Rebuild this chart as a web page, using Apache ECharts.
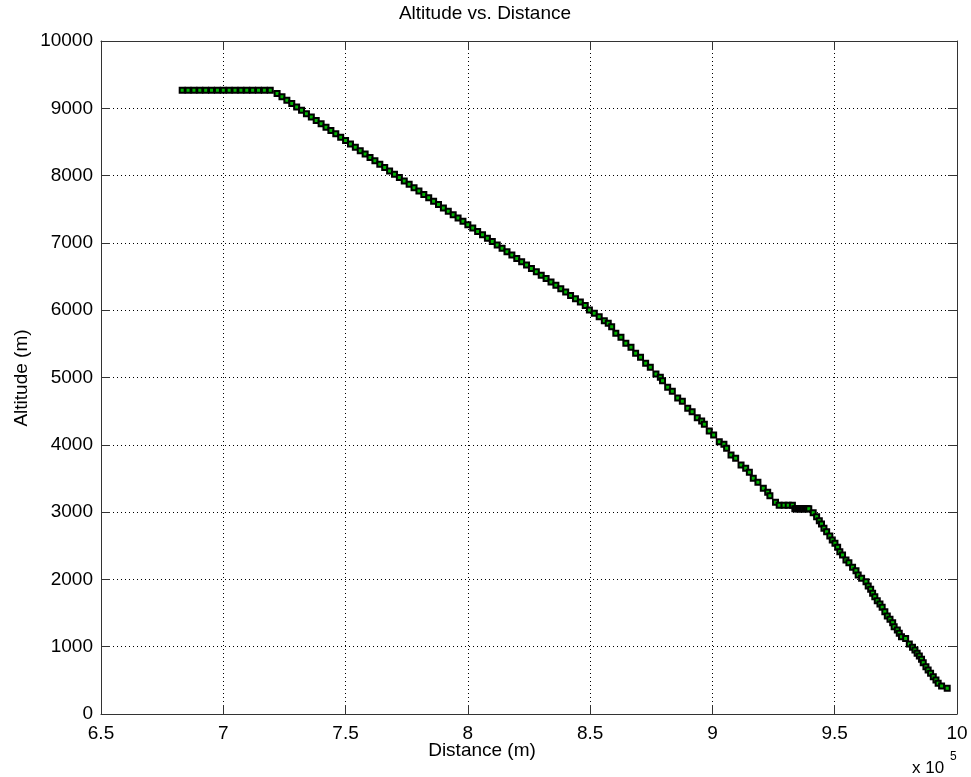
<!DOCTYPE html>
<html><head><meta charset="utf-8">
<script src="https://cdn.jsdelivr.net/npm/echarts@6/dist/echarts.min.js"></script>
<style>html,body{margin:0;padding:0;background:#fff}#c{width:971px;height:777px}</style>
</head><body><div id="c"></div>
<script>
// Distance (m) and altitude (m), per flight segment
const cruiseDist = [683200,685600,688000,690400,692800,695200,697600,700000,702400,704800,707200,709600,712000,714400,716800,719200];
const cruiseAlt  = [9270,9270,9270,9270,9270,9270,9270,9270,9270,9270,9270,9270,9270,9270,9270,9270];

const descent1Dist = [722000,724000,726000,728000,730000,732000,734000,736000,738000,740000,742000,744000,746000,748000,750000,752000,754000,756000,758000,760000,762000,764000,766000,768000,770000,772000,774000,776000,778000,780000,782000,784000,786000,788000,790000,792000,794000,796000,798000,800000,802000,804000,806000,808000,810000,812000,814000,816000,818000,820000,822000,824000,826000,828000,830000,832000,834000,836000,838000,840000,842000,844000,846000,848000,849700];
const descent1Alt  = [9220,9170,9120,9070,9020,8970,8920,8870,8820,8770,8720,8670,8620,8570,8520,8470,8420,8370,8320,8270,8220,8170,8120,8070,8020,7970,7920,7870,7820,7770,7720,7670,7620,7570,7520,7470,7420,7370,7320,7270,7220,7170,7120,7070,7020,6970,6920,6870,6820,6770,6720,6670,6620,6570,6520,6470,6420,6370,6320,6270,6220,6170,6120,6070,6003];

const descent2Dist = [851700,853700,855800,857400,858800,860500,862600,864600,866700,868600,870600,872700,874600,876900,878700,879600,881700,883600,885800,887700,889900,891700,893800,895600,896700,898700,900500,902800,904700,905800,907600,909500,911700,913600,915100,916700,918600,920800,922600,923500,925800];
const descent2Alt  = [5954,5903,5844,5805,5755,5657,5597,5508,5449,5360,5300,5211,5152,5052,5003,4953,4854,4795,4695,4646,4542,4492,4403,4354,4305,4205,4146,4046,4007,3948,3848,3799,3700,3651,3591,3502,3443,3354,3294,3244,3146];

const levelDist = [927300,929300,931000,932700,933700,934300,934900,935400,936000,936600,937100,937700,938300,938800,939400];
const levelAlt  = [3100,3100,3100,3100,3050,3050,3050,3050,3050,3050,3050,3050,3050,3050,3050];

const descent3Dist = [941200,942600,943700,944600,945600,946700,948000,949000,950100,951200,952100,953200,954600,955800,957300,958700,959600,961000,962800,963700,964700,965500,966400,967400,968500,969400,970500,971500,972600,973700,974300,975600,976400,977300,979000,980500,981800,982800,983700,984600,985500,986200,987300,988200,989200,990300,991400,992300,993700,996000];
const descent3Alt  = [2991,2932,2872,2823,2759,2709,2645,2585,2536,2477,2412,2363,2288,2248,2180,2129,2065,2016,1966,1902,1853,1793,1743,1684,1634,1585,1520,1456,1407,1357,1297,1248,1199,1149,1120,1040,991,951,902,862,813,762,703,654,605,554,505,456,416,382];

const xTicks = {min: 650000, max: 1000000, step: 50000};
const yTicks = {min: 0, max: 10000, step: 1000};

const dist = [].concat(cruiseDist, descent1Dist, descent2Dist, levelDist, descent3Dist);
const alt  = [].concat(cruiseAlt, descent1Alt, descent2Alt, levelAlt, descent3Alt);
const points = dist.map((d, i) => [d, alt[i]]);

const FONT = '"Liberation Sans", Arial, sans-serif';
const axisCol = '#333';
const grid = {type: [1, 3], color: '#000', width: 1};

const chart = echarts.init(document.getElementById('c'), null, {renderer: 'canvas'});
chart.setOption({
  animation: false,
  backgroundColor: '#fff',
  grid: {left: 101, right: 14, top: 41, bottom: 63, containLabel: false},
  xAxis: [
    {type: 'value', position: 'bottom', min: xTicks.min, max: xTicks.max, interval: xTicks.step,
     axisLine: {show: true, onZero: false, lineStyle: {color: axisCol, width: 1}},
     axisTick: {show: true, inside: true, length: 9, lineStyle: {color: axisCol}},
     axisLabel: {color: '#000', fontSize: 19, fontFamily: FONT, margin: 10,
                 formatter: v => String(+(v / 1e5).toFixed(1))},
     splitLine: {show: true, lineStyle: grid}},
    {type: 'value', position: 'top', min: xTicks.min, max: xTicks.max, interval: xTicks.step,
     axisLine: {show: true, onZero: false, lineStyle: {color: axisCol, width: 1}},
     axisTick: {show: true, inside: true, length: 9, lineStyle: {color: axisCol}},
     axisLabel: {show: false}, splitLine: {show: false}}
  ],
  yAxis: [
    {type: 'value', position: 'left', min: yTicks.min, max: yTicks.max, interval: yTicks.step,
     axisLine: {show: true, onZero: false, lineStyle: {color: axisCol, width: 1}},
     axisTick: {show: true, inside: true, length: 9, lineStyle: {color: axisCol}},
     axisLabel: {color: '#000', fontSize: 19, fontFamily: FONT, margin: 8, formatter: v => String(v)},
     splitLine: {show: true, lineStyle: grid}},
    {type: 'value', position: 'right', min: yTicks.min, max: yTicks.max, interval: yTicks.step,
     axisLine: {show: true, onZero: false, lineStyle: {color: axisCol, width: 1}},
     axisTick: {show: true, inside: true, length: 9, lineStyle: {color: axisCol}},
     axisLabel: {show: false}, splitLine: {show: false}}
  ],
  graphic: [
    {type: 'text', x: 485, y: 14, style: {text: 'Altitude vs. Distance', fill: '#000', font: '19px ' + FONT, align: 'center', verticalAlign: 'middle'}},
    {type: 'text', x: 482, y: 751, style: {text: 'Distance (m)', fill: '#000', font: '19px ' + FONT, align: 'center', verticalAlign: 'middle'}},
    {type: 'text', x: 22, y: 378, rotation: Math.PI / 2, style: {text: 'Altitude (m)', fill: '#000', font: '19px ' + FONT, align: 'center', verticalAlign: 'middle'}},
    {type: 'text', x: 912, y: 768, style: {text: 'x 10', fill: '#000', font: '17px ' + FONT, align: 'left', verticalAlign: 'middle'}},
    {type: 'text', x: 950, y: 757, style: {text: '5', fill: '#000', font: '12px ' + FONT, align: 'left', verticalAlign: 'middle'}}
  ],
  series: [{
    type: 'line', xAxisIndex: 0, yAxisIndex: 0, data: points,
    showAllSymbol: true, symbol: 'rect', symbolSize: 5,
    lineStyle: {color: '#ff0000', width: 1},
    itemStyle: {color: '#00b400', borderColor: '#000', borderWidth: 2},
    emphasis: {disabled: true}, silent: true
  }]
});
</script></body></html>
